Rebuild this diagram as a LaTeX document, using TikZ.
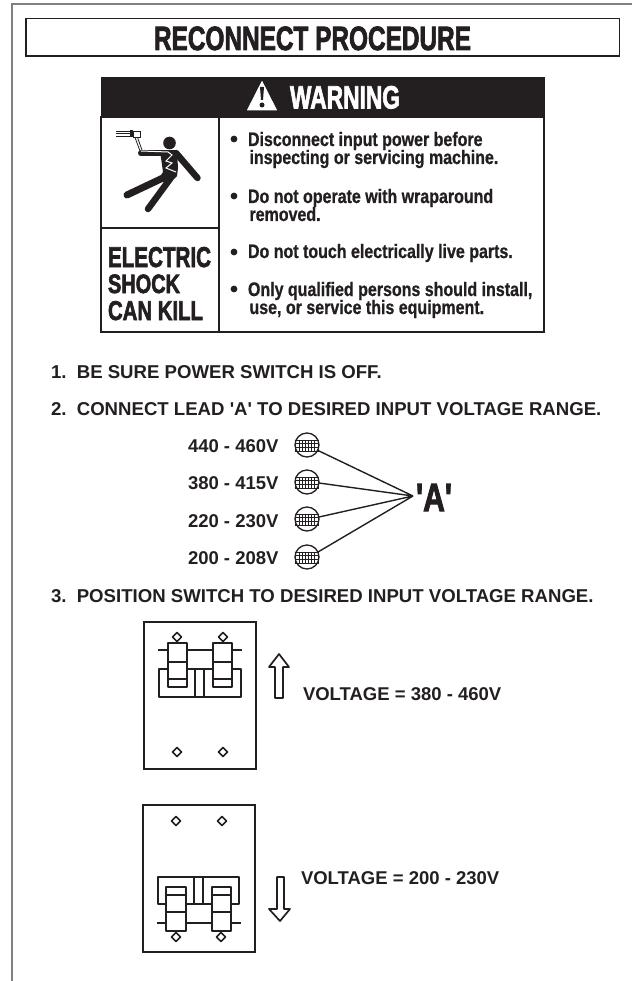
\documentclass[tikz,border=0pt]{standalone}
\usepackage{fontspec}
\usepackage{graphicx}
\setmainfont{Liberation Sans}
\newfontfamily\stepf{Liberation Sans}
\newfontfamily\heavyf[BoldFeatures={FakeBold=2.6}]{Liberation Sans}
\newfontfamily\bodyf[FakeStretch=0.82,BoldFeatures={FakeStretch=0.82,FakeBold=0.8}]{Liberation Sans}
\newcommand{\fitt}[3]{\resizebox{#1pt}{#2pt}{\heavyf\bfseries #3}}
\definecolor{ink}{HTML}{231F20}
\definecolor{framegray}{HTML}{808080}
\tikzset{
  midline/.style={draw=ink,line width=1.4pt},
  boxline/.style={draw=ink,line width=1.7pt},
  swline/.style={draw=ink,line width=1.7pt,line join=round},
  lab/.style={anchor=base west,inner sep=0pt,outer sep=0pt,text=ink},
  steptext/.style={lab,font=\stepf\fontsize{18.6}{20}\selectfont\bfseries},
  voltext/.style={lab,font=\stepf\fontsize{18.5}{20}\selectfont\bfseries},
  bodytext/.style={lab,font=\bodyf\fontsize{19.5}{20}\selectfont\bfseries},
  dia/.pic={\draw[swline] (0,-4.5)--(4.5,0)--(0,4.5)--(-4.5,0)--cycle;},
  term/.pic={
    \draw[draw=ink,line width=1.3pt] (0,0) circle (12);
    \draw[ink,line width=0.9pt] (-11.5,-5) rectangle (11.5,6) (-11.5,-1.5)--(11.5,-1.5) (-11.5,2.5)--(11.5,2.5);
    \foreach \q in {-7.5,-4.5,-1.5,1.5,4.5,7.5} \draw[ink,line width=0.9pt] (\q,-5)--(\q,6);
  }
}
\begin{document}
\begin{tikzpicture}[x=1pt,y=-1pt]
\useasboundingbox (0,0) rectangle (632,981);
% outer frame
\draw[framegray,line width=1.4pt] (632,4) -- (12,4) -- (12,981);
% title
\draw[boxline] (26,18.5) rectangle (619.5,56);
\node[lab] (title) at (154,50) {\fitt{317}{23.5}{RECONNECT PROCEDURE}};
% warning header
\fill[ink] (101,77) rectangle (545,117);
\fill[white,line join=round,draw=white,line width=0.8pt] (262,81.5) -- (276.5,110) -- (247.5,110) -- cycle;
\fill[ink] (260,87) -- (264,87) -- (263,100) -- (261,100) -- cycle;
\fill[ink] (262,105) circle (2.5);
\node[lab,text=white] (warn) at (290,108.5) {\fitt{110}{22.5}{WARNING}};
% warning table
\draw[midline] (101,117) rectangle (544,332);
\draw[midline] (219,117) -- (219,332);
\draw[midline] (101,228) -- (219,228);
% man
\draw[ink,line width=0.9pt] (116,131) -- (132,131) (116,133.5) -- (132,133.5) (116,136.5)--(132,136.5);
\fill[ink] (130,130.5) rectangle (133,137.5);
\draw[ink,line width=0.9pt,fill=white] (133,131) rectangle (140,137);
\draw[ink,line width=0.8pt] (135,137.5) -- (140,151) (137.5,137.5) -- (142,150);
\fill[ink] (169.5,143) circle (6.3);
\draw[ink,line width=6pt,line cap=round] (141,153.5) -- (176,153.5);
\draw[ink,line width=6.5pt,line cap=round] (176,153) -- (197.5,178);
\fill[ink] (160,151) -- (177,151) -- (178,168) -- (177,176) -- (169,184) -- (158,180) -- (163,172) -- cycle;
\draw[ink,line width=7pt,line cap=round] (165,177) -- (127,195);
\draw[ink,line width=6.5pt,line cap=round] (170,179) -- (148,209);
\draw[white,line width=1pt] (141,151) -- (168,152) -- (172,155) -- (166,161) -- (172,163) -- (166,168) -- (176,172);
% electric shock
\node[lab] (es1) at (108,267) {\fitt{103}{20}{ELECTRIC}};
\node[lab] (es2) at (108,293) {\fitt{72}{18.5}{SHOCK}};
\node[lab] (es3) at (108,320) {\fitt{95}{19}{CAN KILL}};
% bullets
\foreach \y in {139,196,252,289} \fill[ink] (234,\y) circle (3.4);
\node[bodytext] (b1) at (248,146) {Disconnect input power before};
\node[bodytext] (b2) at (249.5,164) {inspecting or servicing machine.};
\node[bodytext] (b3) at (248,203) {Do not operate with wraparound};
\node[bodytext] (b4) at (249.5,221) {removed.};
\node[bodytext] (b5) at (248,258) {Do not touch electrically live parts.};
\node[bodytext] (b6) at (248,296) {Only qualified persons should install,};
\node[bodytext] (b7) at (249.5,314) {use, or service this equipment.};
% steps
\node[steptext] (s1) at (51,378) {1.\ \ BE SURE POWER SWITCH IS OFF.};
\node[steptext] (s2) at (51,415) {2.\ \ CONNECT LEAD 'A' TO DESIRED INPUT VOLTAGE RANGE.};
\node[steptext] (s3) at (51,602) {3.\ \ POSITION SWITCH TO DESIRED INPUT VOLTAGE RANGE.};
\node[voltext] (v1) at (188,452) {440 - 460V};
\node[voltext] (v2) at (188,489) {380 - 415V};
\node[voltext] (v3) at (188,527) {220 - 230V};
\node[voltext] (v4) at (188,564) {200 - 208V};
% terminals
\pic at (307,445) {term};
\pic at (307,482) {term};
\pic at (307,519) {term};
\pic at (307,557) {term};
\coordinate (apex) at (413,496);
\coordinate (t1) at (317,450);
\coordinate (t2) at (319,483);
\coordinate (t3) at (319,517);
\coordinate (t4) at (318,552);
\draw[midline] (t1)--(apex) (t2)--(apex) (t3)--(apex) (t4)--(apex);
\node[lab] (leadA) at (416,511) {\fitt{36}{27}{'A'}};
% switch up
\draw[boxline] (144,622) rectangle (256,769);
\pic at (177,637) {dia}; \pic at (223,637) {dia}; \pic at (177,752) {dia}; \pic at (223,752) {dia};
\draw[swline] (158,650)--(168,650) (187,650)--(213,650) (232,650)--(242,650);
\draw[swline] (168,669)--(159,669)--(159,697)--(195,697) (195,669)--(187,669) (213,669)--(204,669) (232,669)--(241,669)--(241,697)--(204,697);
\draw[swline] (195,669) rectangle (204,697);
\draw[swline] (168,643) rectangle (187,687) (168,662)--(187,662) (168,679)--(187,679);
\draw[swline] (213,643) rectangle (232,687) (213,662)--(232,662) (213,679)--(232,679);
\draw[swline] (275,698)--(283,698)--(283,667)--(289,667)--(279,654)--(269,667)--(275,667)--cycle;
\node[voltext] (vu) at (303,700) {VOLTAGE = 380 - 460V};
% switch down
\draw[boxline] (143,805) rectangle (255,952);
\pic at (176,821) {dia}; \pic at (222,821) {dia}; \pic at (176,937) {dia}; \pic at (221,937) {dia};
\draw[swline] (157,923)--(166,923) (186,923)--(212,923) (231,923)--(241,923);
\draw[swline] (166,904)--(158,904)--(158,877)--(239,877)--(239,904)--(231,904) (186,904)--(212,904);
\draw[swline] (194,877) rectangle (203,904);
\draw[swline] (166,887) rectangle (186,931) (166,895)--(186,895) (166,912)--(186,912);
\draw[swline] (212,887) rectangle (231,931) (212,895)--(231,895) (212,912)--(231,912);
\draw[swline] (277,877)--(284,877)--(284,909)--(290,909)--(280,921)--(269,909)--(277,909)--cycle;
\node[voltext] (vd) at (301,884) {VOLTAGE = 200 - 230V};
\end{tikzpicture}
\end{document}
